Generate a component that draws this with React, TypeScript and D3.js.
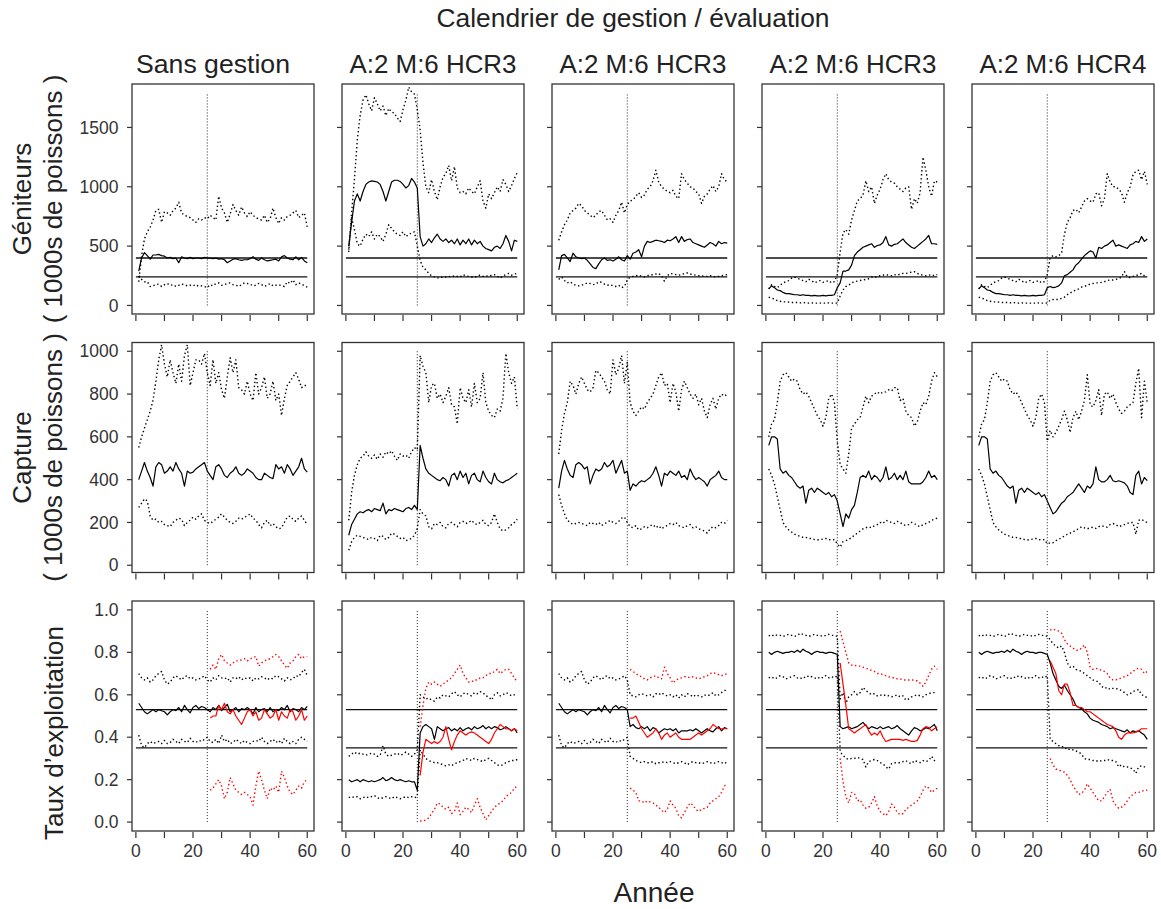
import React from "react";
import * as d3 from "d3";

// ---- labels / ticks ----
const mainTitle = "Calendrier de gestion / évaluation";
const colTitles = ["Sans gestion", "A:2 M:6 HCR3", "A:2 M:6 HCR3", "A:2 M:6 HCR3", "A:2 M:6 HCR4"];
const rowLabels = [
  ["Géniteurs", "( 1000s de poissons )"],
  ["Capture", "( 1000s de poissons )"],
  ["Taux d’exploitation"],
];
const xTitle = "Année";
const xTicks = [0, 10, 20, 30, 40, 50, 60];
const xTickLabels = [0, 20, 40, 60];
const yTicks = [
  [0, 500, 1000, 1500],
  [0, 200, 400, 600, 800, 1000],
  [0, 0.2, 0.4, 0.6, 0.8, 1.0],
];
const refLines = [[400, 240], [], [0.53, 0.35]];
const mgmtYear = 25;
const mgmtTop = [1790, 1000, 1.0];

// ---- Géniteurs (spawners) ----
const sp1Med = [290, 400, 445, 420, 390, 425, 425, 430, 420, 415, 400, 405, 395, 400, 360, 410, 400, 395, 405, 395,
  400, 400, 395, 405, 400, 400, 395, 400, 390, 395, 385, 360, 375, 390, 395, 385, 380, 385, 385, 395,
  410, 390, 380, 400, 385, 375, 380, 385, 390, 375, 410, 420, 400, 390, 385, 410, 385, 405, 375, 360];
const sp1Hi = [200, 420, 560, 620, 660, 720, 800, 810, 700, 790, 780, 760, 800, 820, 870, 780, 760, 750, 740, 720,
  700, 730, 720, 740, 730, 760, 740, 720, 920, 820, 780, 700, 770, 850, 800, 760, 830, 780, 750, 790,
  760, 740, 730, 720, 760, 700, 730, 820, 740, 690, 740, 720, 750, 760, 780, 800, 740, 760, 780, 660];
const sp1Lo = [250, 220, 200, 200, 160, 165, 175, 180, 160, 175, 185, 170, 175, 160, 170, 180, 175, 165, 170, 175,
  160, 170, 165, 160, 150, 175, 165, 185, 190, 170, 175, 185, 190, 175, 170, 160, 175, 190, 185, 180,
  165, 170, 185, 175, 160, 170, 185, 165, 170, 175, 165, 160, 200, 185, 215, 175, 190, 180, 165, 155];
const sp2Med = [500, 700, 880, 940, 880, 960, 1020, 1040, 1050, 1045, 1040, 1020, 960, 880, 960, 1040, 1055, 1055, 1045, 1020,
  990, 1010, 1070, 1040, 990, 580, 500, 520, 560, 530, 570, 600, 560, 540, 560, 530, 550, 520, 560, 510,
  550, 520, 560, 510, 550, 520, 540, 500, 480, 470, 460, 490, 500, 480, 520, 590, 540, 460, 550, 540];
const sp2Hi = [450, 780, 1060, 1400, 1600, 1730, 1775, 1700, 1640, 1750, 1700, 1640, 1680, 1600, 1660, 1630, 1620, 1580, 1550, 1650,
  1730, 1840, 1800, 1780, 1650, 1480, 1200, 1000, 950, 1060, 960, 890, 1000, 1080, 1110, 1180, 1050, 1170, 990, 950,
  960, 940, 990, 960, 940, 1000, 1050, 880, 820, 940, 900, 950, 1000, 960, 1060, 1020, 960, 1010, 1070, 1120];
const sp2Lo = [470, 740, 640, 520, 500, 560, 600, 580, 620, 560, 600, 580, 540, 600, 680, 650, 620, 600, 590, 620,
  580, 600, 610, 620, 500, 380, 320, 300, 270, 250, 240, 230, 240, 235, 240, 245, 240, 250, 245, 240,
  260, 250, 245, 240, 235, 250, 255, 245, 250, 245, 255, 260, 245, 230, 250, 260, 270, 255, 265, 270];
const sp3Med = [300, 420, 430, 400, 370, 440, 410, 400, 395, 400, 380, 350, 320, 310, 350, 385, 400, 380, 385, 375,
  390, 410, 385, 375, 420, 390, 440, 450, 470, 410, 500, 540, 530, 540, 550, 545, 540, 530, 550, 545,
  560, 580, 530, 580, 540, 555, 560, 530, 520, 510, 500, 490, 510, 530, 520, 500, 540, 520, 530, 525];
const sp3Hi = [550, 620, 680, 720, 780, 800, 820, 860, 840, 800, 780, 760, 740, 760, 790, 800, 760, 720, 730, 700,
  760, 800, 870, 780, 850, 880, 890, 920, 950, 910, 930, 980, 1000, 1050, 1140, 1040, 1000, 980, 960, 950,
  970, 920, 900, 1110, 1060, 1030, 1000, 990, 960, 940, 860, 920, 940, 980, 1010, 960, 1000, 1110, 1060, 1040];
const sp3Lo = [220, 240, 210, 190, 200, 180, 170, 165, 170, 180, 190, 185, 175, 180, 200, 195, 180, 170, 175, 165,
  160, 170, 150, 160, 215, 240, 245, 250, 255, 245, 240, 250, 255, 260, 265, 270, 250, 205, 250, 270,
  265, 260, 255, 260, 270, 275, 265, 260, 255, 250, 250, 245, 245, 250, 245, 240, 245, 250, 255, 260];
// years 1-25 are shared by the last two scenarios
const sp45MedPre = [140, 165, 150, 130, 125, 110, 100, 100, 95, 90, 90, 85, 90, 85, 85, 80, 85, 80, 80, 85, 80, 85, 85, 90, 150];
const sp45HiPre = [140, 175, 160, 150, 170, 190, 200, 210, 230, 240, 230, 220, 210, 200, 220, 210, 190, 200, 210, 195, 200, 210, 190, 200, 260];
const sp45LoPre = [70, 60, 55, 40, 35, 30, 30, 28, 25, 25, 25, 22, 25, 22, 20, 22, 20, 20, 20, 20, 20, 22, 20, 20, 20];
const sp4MedPost = [190, 290, 290, 300, 340, 420, 450, 470, 490, 500, 510, 520, 490, 505, 510,
  530, 580, 510, 500, 515, 520, 540, 560, 530, 510, 490, 480, 500, 520, 540, 560, 590, 520, 520, 515];
const sp4HiPost = [450, 610, 640, 600, 720, 800, 880, 900, 930, 1050, 960, 1000, 860, 930, 980,
  1060, 1110, 1060, 1040, 1030, 1000, 980, 960, 990, 1000, 810, 900, 860, 950, 1250, 1140, 1000, 920, 1050, 1040];
const sp4LoPost = [80, 130, 160, 170, 190, 200, 205, 210, 215, 220, 225, 240, 235, 245, 250,
  255, 260, 255, 250, 260, 255, 265, 270, 270, 275, 280, 285, 270, 260, 255, 250, 255, 260, 250, 260];
const sp5MedPost = [160, 150, 155, 165, 190, 250, 260, 280, 300, 340, 360, 390, 420, 440, 460,
  450, 400, 490, 480, 500, 510, 530, 550, 500, 510, 500, 490, 480, 510, 520, 540, 530, 580, 540, 560];
const sp5HiPost = [400, 420, 410, 420, 440, 600, 700, 740, 800, 810, 780, 830, 880, 900, 880,
  870, 940, 950, 840, 900, 1110, 1040, 1000, 1000, 980, 950, 870, 950, 1000, 1100, 1130, 1140, 1060, 1130, 1020];
const sp5LoPost = [45, 50, 50, 50, 60, 70, 90, 105, 120, 130, 140, 155, 160, 170, 180,
  185, 190, 190, 195, 200, 210, 215, 215, 220, 225, 240, 285, 240, 235, 245, 250, 260, 270, 250, 245];

// ---- Capture (catch) ----
const cat1Med = [400, 440, 480, 440, 410, 370, 460, 480, 470, 430, 440, 460, 440, 480, 450, 430, 370, 440, 430, 435,
  450, 460, 470, 480, 440, 420, 400, 460, 470, 450, 420, 410, 430, 440, 460, 430, 420, 430, 450, 440,
  430, 410, 400, 400, 430, 420, 410, 405, 470, 450, 460, 430, 470, 450, 420, 440, 460, 500, 450, 435];
const cat1Hi = [550, 600, 640, 680, 720, 770, 860, 960, 1030, 940, 880, 960, 900, 850, 940, 860, 980, 1030, 840, 900,
  960, 960, 940, 990, 900, 840, 960, 850, 900, 820, 780, 880, 970, 900, 960, 830, 820, 800, 860, 800,
  770, 900, 800, 830, 880, 780, 800, 860, 770, 800, 700, 780, 840, 860, 880, 900, 870, 830, 840, 840];
const cat1Lo = [270, 290, 310, 300, 230, 210, 215, 200, 205, 190, 185, 180, 200, 210, 220, 215, 185, 200, 210, 225,
  215, 230, 240, 210, 200, 195, 205, 215, 225, 240, 225, 210, 200, 195, 205, 220, 215, 225, 230, 240,
  220, 210, 190, 175, 200, 210, 185, 195, 180, 170, 175, 200, 225, 230, 215, 205, 220, 230, 210, 190];
const cat2Med = [140, 190, 215, 240, 250, 245, 255, 260, 250, 265, 260, 255, 290, 240, 260, 255, 265, 260, 255, 250,
  265, 270, 260, 280, 260, 560, 500, 450, 430, 420, 410, 400, 395, 410, 400, 370, 420, 430, 400, 440,
  410, 430, 380, 420, 430, 400, 390, 440, 410, 390, 380, 430, 400, 390, 385, 395, 400, 410, 420, 430];
const cat2Hi = [210, 340, 420, 470, 500, 510, 530, 510, 500, 515, 495, 520, 505, 530, 520, 535, 510, 490, 520, 510,
  515, 500, 530, 550, 540, 980, 930, 900, 760, 840, 850, 780, 800, 760, 790, 830, 750, 740, 660, 830,
  780, 760, 820, 740, 850, 760, 780, 900, 760, 720, 700, 690, 730, 720, 780, 990, 900, 850, 880, 730];
const cat2Lo = [70, 110, 130, 140, 135, 130, 125, 120, 130, 125, 115, 140, 135, 120, 130, 150, 145, 135, 125, 130,
  115, 120, 125, 140, 170, 260, 240, 230, 180, 170, 195, 190, 200, 180, 175, 195, 200, 190, 180, 200,
  205, 195, 200, 210, 195, 190, 200, 210, 190, 185, 200, 240, 200, 170, 160, 165, 175, 190, 200, 215];
const cat3Med = [360, 440, 490, 450, 420, 410, 470, 480, 470, 450, 460, 380, 420, 450, 440, 450, 480, 460, 470, 490,
  430, 460, 490, 430, 440, 350, 380, 370, 385, 395, 390, 400, 410, 430, 460, 420, 370, 430, 420, 440,
  430, 420, 440, 410, 420, 400, 450, 420, 400, 410, 400, 390, 370, 400, 410, 420, 440, 410, 400, 400];
const cat3Hi = [520, 630, 710, 760, 860, 840, 800, 850, 880, 850, 820, 810, 830, 910, 900, 880, 860, 820, 800, 960,
  890, 920, 980, 850, 950, 760, 720, 700, 720, 740, 730, 760, 780, 800, 840, 880, 900, 840, 850, 760,
  850, 810, 720, 820, 860, 830, 800, 780, 800, 750, 780, 720, 690, 750, 780, 730, 780, 800, 790, 800];
const cat3Lo = [330, 280, 240, 210, 200, 190, 195, 200, 195, 190, 185, 200, 195, 190, 200, 185, 195, 200, 210, 200,
  195, 205, 220, 225, 200, 180, 175, 185, 165, 170, 180, 175, 185, 190, 175, 185, 170, 180, 185, 195,
  190, 200, 185, 180, 175, 185, 190, 175, 180, 170, 165, 160, 150, 170, 180, 175, 185, 200, 195, 210];
const cat45MedPre = [560, 600, 600, 590, 450, 430, 440, 420, 410, 390, 370, 360, 370, 290, 350, 360, 340, 360, 350, 340, 330, 340, 320, 330, 300];
const cat45HiPre = [600, 660, 680, 760, 860, 890, 900, 880, 860, 870, 860, 820, 800, 810, 790, 760, 730, 700, 680, 650, 690, 780, 800, 760, 580];
const cat45LoPre = [450, 420, 380, 320, 260, 200, 180, 165, 155, 145, 140, 135, 130, 130, 125, 125, 120, 118, 120, 122, 125, 120, 118, 120, 100];
const cat4MedPost = [240, 180, 240, 220, 260, 280, 340, 410, 420, 410, 440, 400, 420, 410, 390,
  410, 460, 400, 410, 430, 400, 420, 400, 440, 390, 380, 380, 380, 380, 390, 410, 440, 410, 420, 400];
const cat4HiPost = [470, 450, 430, 520, 640, 660, 680, 690, 740, 790, 760, 790, 800, 810, 800,
  810, 810, 820, 815, 830, 830, 770, 780, 720, 700, 690, 650, 670, 720, 760, 750, 790, 860, 900, 880];
const cat4LoPost = [85, 110, 115, 120, 130, 140, 150, 160, 170, 175, 180, 175, 185, 190, 200,
  195, 210, 205, 200, 195, 205, 200, 190, 185, 190, 200, 195, 185, 180, 190, 195, 200, 210, 215, 220];
const cat5MedPost = [270, 240, 250, 270, 290, 300, 320, 330, 340, 360, 380, 360, 340, 370, 360,
  380, 460, 400, 390, 390, 400, 420, 395, 390, 395, 390, 385, 370, 340, 330, 420, 440, 380, 410, 395];
const cat5HiPost = [630, 600, 620, 650, 680, 720, 680, 620, 690, 720, 680, 720, 770, 890, 750,
  740, 770, 820, 700, 800, 810, 780, 800, 760, 730, 710, 720, 740, 750, 760, 850, 920, 690, 860, 760];
const cat5LoPost = [105, 105, 115, 120, 130, 135, 145, 150, 155, 165, 170, 180, 175, 170, 175,
  178, 172, 180, 185, 180, 178, 190, 195, 190, 180, 185, 190, 195, 200, 200, 145, 210, 215, 205, 200];

// ---- Taux d'exploitation (exploitation rate), black = true, red = perceived (from year 26) ----
const u13MedPre = [.56, .54, .52, .51, .52, .53, .52, .53, .525, .52, .505, .52, .53, .525, .54, .52, .55, .53, .515, .54, .55, .535, .545, .54, .53];
const u13HiPre = [.70, .68, .67, .68, .66, .67, .69, .70, .71, .67, .65, .66, .68, .69, .68, .67, .685, .69, .675, .68, .67, .675, .68, .69, .67];
const u13LoPre = [.41, .36, .35, .37, .38, .37, .375, .38, .37, .385, .37, .375, .39, .38, .37, .39, .38, .375, .395, .38, .375, .385, .38, .39, .40];
const u1MedPost = [.52, .54, .53, .55, .525, .54, .555, .52, .53, .54, .52, .535, .53, .54, .53, .51, .54, .52,
  .53, .535, .52, .54, .52, .53, .525, .54, .53, .55, .52, .535, .53, .52, .54, .53, .545];
const u1HiPost = [.66, .68, .67, .69, .68, .675, .68, .66, .68, .675, .685, .67, .68, .675, .68, .665, .68, .675,
  .685, .68, .67, .68, .675, .69, .685, .675, .665, .68, .67, .675, .69, .685, .705, .72, .69];
const u1LoPost = [.38, .375, .39, .37, .41, .38, .39, .37, .375, .39, .38, .37, .385, .375, .37, .38, .385, .38,
  .40, .38, .37, .38, .39, .375, .385, .37, .395, .38, .37, .38, .37, .39, .40, .39, .38];
const e1Med = [.49, .50, .50, .55, .53, .56, .52, .51, .53, .50, .48, .46, .49, .52, .53, .50, .52, .48,
  .49, .53, .51, .49, .50, .53, .48, .52, .50, .49, .53, .52, .48, .50, .53, .48, .50];
const e1Hi = [.72, .74, .72, .77, .79, .76, .75, .74, .75, .76, .76, .765, .77, .76, .77, .775, .78, .735,
  .75, .76, .765, .77, .78, .79, .78, .76, .74, .725, .75, .76, .78, .79, .77, .78, .78];
const e1Lo = [.15, .16, .18, .20, .17, .11, .14, .21, .18, .15, .14, .13, .14, .13, .12, .08, .17, .24,
  .20, .15, .11, .16, .15, .17, .14, .24, .21, .17, .14, .13, .15, .17, .16, .19, .20];

const u2Med = [.20, .19, .195, .20, .19, .20, .195, .19, .195, .19, .195, .20, .21, .195, .20, .21, .20, .195, .20, .195,
  .19, .195, .19, .19, .15, .42, .45, .46, .45, .44, .39, .45, .44, .43, .44, .445, .43, .44, .43, .445,
  .43, .44, .445, .435, .45, .44, .445, .455, .44, .45, .44, .45, .445, .435, .44, .45, .44, .43, .44, .42];
const u2Hi = [.31, .32, .33, .32, .325, .32, .315, .32, .325, .32, .31, .315, .36, .32, .31, .315, .32, .325, .315, .32,
  .33, .32, .31, .32, .34, .60, .59, .58, .585, .575, .57, .59, .585, .60, .595, .59, .605, .615, .60, .59,
  .605, .61, .60, .595, .61, .605, .615, .61, .595, .59, .575, .60, .61, .595, .60, .61, .605, .595, .60, .595];
const u2Lo = [.115, .12, .115, .12, .11, .115, .12, .115, .12, .125, .115, .11, .115, .12, .115, .11, .12, .115, .11, .115,
  .12, .115, .12, .115, .12, .34, .32, .30, .29, .285, .28, .28, .275, .27, .265, .27, .265, .275, .28, .285,
  .29, .30, .295, .29, .30, .295, .29, .285, .295, .30, .29, .28, .27, .265, .27, .28, .285, .29, .29, .295];
const e2Med = [.22, .33, .39, .38, .37, .38, .37, .38, .40, .45, .39, .34, .38, .41, .43, .42, .41, .42,
  .425, .42, .41, .40, .39, .38, .37, .39, .42, .44, .46, .45, .44, .44, .43, .44, .43];
const e2Hi = [.45, .55, .63, .66, .65, .66, .65, .64, .65, .66, .67, .68, .70, .72, .74, .70, .68, .66,
  .66, .67, .67, .68, .68, .69, .70, .70, .71, .72, .70, .71, .72, .72, .70, .68, .66];
const e2Lo = [.005, .005, .01, .02, .04, .06, .09, .085, .07, .06, .07, .04, .05, .09, .035, .05, .07, .06,
  .045, .08, .11, .07, .04, .01, .03, .05, .07, .08, .09, .10, .12, .13, .14, .16, .17];

const u3MedPost = [.45, .46, .445, .44, .45, .44, .45, .43, .445, .44, .42, .43, .44, .435, .44, .43, .44, .42,
  .43, .43, .43, .435, .43, .44, .43, .42, .43, .44, .43, .425, .44, .45, .43, .445, .44];
const u3HiPost = [.60, .595, .59, .60, .605, .60, .595, .60, .59, .605, .60, .61, .60, .595, .60, .59, .60, .585,
  .60, .59, .605, .60, .59, .60, .595, .59, .60, .595, .60, .61, .595, .60, .61, .62, .625];
const u3LoPost = [.31, .30, .29, .285, .28, .285, .28, .28, .285, .275, .28, .28, .285, .28, .285, .28, .275, .28,
  .285, .28, .27, .28, .285, .28, .28, .275, .28, .285, .28, .275, .28, .285, .28, .275, .285];
const e3Med = [.49, .49, .50, .47, .44, .42, .40, .41, .42, .44, .42, .39, .41, .42, .40, .41, .42, .40,
  .39, .39, .39, .39, .40, .41, .42, .41, .42, .43, .44, .46, .45, .44, .44, .44, .44];
const e3Hi = [.72, .71, .70, .69, .685, .675, .67, .68, .685, .69, .68, .675, .73, .70, .68, .655, .67, .675,
  .68, .685, .685, .68, .685, .68, .675, .68, .685, .69, .70, .705, .70, .695, .69, .695, .70];
const e3Lo = [.16, .15, .14, .10, .10, .09, .10, .095, .09, .08, .07, .055, .045, .06, .10, .08, .065, .03,
  .02, .045, .07, .09, .08, .06, .05, .06, .065, .07, .09, .10, .11, .12, .14, .17, .18];

const u45MedPre = [.80, .79, .80, .805, .80, .795, .80, .80, .805, .80, .81, .80, .815, .805, .80, .79, .80, .805, .80, .80, .795, .80, .80, .795, .79];
const u45HiPre = [.88, .875, .885, .88, .88, .875, .88, .885, .88, .875, .88, .89, .885, .88, .875, .88, .885, .88, .88, .875, .88, .885, .88, .88, .875];
const u45LoPre = [.68, .685, .675, .68, .69, .685, .675, .68, .685, .69, .68, .675, .685, .68, .69, .685, .68, .675, .685, .68, .69, .68, .685, .68, .69];
const u4MedPost = [.45, .44, .445, .45, .44, .445, .45, .46, .47, .455, .44, .45, .445, .44, .45, .44, .445, .45,
  .44, .445, .455, .44, .43, .42, .41, .43, .445, .44, .43, .435, .445, .44, .45, .46, .43];
const u4HiPost = [.58, .61, .56, .59, .60, .615, .60, .61, .635, .62, .61, .60, .605, .595, .60, .595, .60, .595,
  .59, .595, .60, .59, .595, .575, .58, .59, .595, .60, .595, .59, .60, .605, .61, .61, .61];
const u4LoPost = [.33, .315, .30, .295, .30, .30, .305, .30, .295, .26, .285, .29, .295, .29, .28, .275, .26, .25,
  .275, .28, .28, .28, .285, .29, .28, .275, .29, .285, .28, .29, .285, .29, .31, .29, .295];
const e4Med = [.75, .65, .55, .44, .43, .42, .43, .44, .45, .46, .43, .41, .42, .41, .43, .40, .38, .385,
  .39, .39, .39, .39, .385, .39, .385, .38, .38, .385, .41, .44, .45, .445, .43, .44, .45];
const e4Hi = [.90, .85, .80, .75, .74, .74, .735, .735, .73, .725, .72, .715, .71, .70, .70, .695, .69, .685,
  .68, .68, .675, .675, .67, .67, .67, .67, .67, .665, .655, .64, .66, .69, .72, .735, .72];
const e4Lo = [.30, .19, .12, .09, .14, .135, .10, .105, .08, .065, .07, .09, .12, .075, .05, .04, .03, .05,
  .085, .07, .045, .035, .04, .06, .07, .08, .09, .10, .12, .15, .17, .16, .14, .15, .16];

const u5MedPost = [.75, .70, .67, .64, .63, .645, .62, .60, .58, .55, .54, .535, .52, .51, .49, .48, .475, .47,
  .46, .455, .45, .44, .445, .44, .435, .43, .425, .435, .42, .43, .425, .43, .42, .41, .39];
const u5HiPost = [.86, .84, .83, .82, .83, .80, .75, .73, .735, .72, .715, .71, .70, .69, .68, .67, .665, .66,
  .64, .63, .635, .625, .63, .63, .625, .62, .61, .60, .605, .615, .62, .625, .60, .595, .585];
const u5LoPost = [.39, .38, .37, .36, .355, .355, .34, .345, .34, .335, .33, .32, .30, .295, .295, .29, .29, .285,
  .29, .29, .295, .29, .29, .285, .26, .27, .26, .26, .255, .25, .23, .26, .265, .26, .26];
const e5Med = [.76, .73, .70, .62, .60, .65, .65, .61, .55, .55, .54, .54, .53, .52, .52, .51, .50, .49,
  .48, .47, .46, .455, .45, .43, .40, .39, .41, .42, .42, .42, .425, .43, .44, .44, .44];
const e5Hi = [.905, .91, .905, .90, .89, .86, .84, .83, .82, .81, .81, .82, .835, .80, .73, .72, .725, .72,
  .715, .71, .70, .68, .67, .67, .675, .68, .685, .69, .70, .71, .72, .725, .72, .70, .71];
const e5Lo = [.30, .27, .25, .245, .24, .235, .22, .20, .17, .15, .13, .135, .15, .18, .16, .14, .12, .10,
  .10, .12, .14, .155, .10, .08, .065, .07, .08, .10, .12, .13, .14, .14, .145, .15, .15];

// ---- build panels ----
type Series = { v: number[]; x0: number; dash: boolean; red: boolean };
const trio = (med: number[], hi: number[], lo: number[], x0 = 1, red = false): Series[] => [
  { v: hi, x0, dash: true, red },
  { v: lo, x0, dash: true, red },
  { v: med, x0, dash: false, red },
];
const panels: Series[][][] = [
  [
    trio(sp1Med, sp1Hi, sp1Lo),
    trio(sp2Med, sp2Hi, sp2Lo),
    trio(sp3Med, sp3Hi, sp3Lo),
    trio([...sp45MedPre, ...sp4MedPost], [...sp45HiPre, ...sp4HiPost], [...sp45LoPre, ...sp4LoPost]),
    trio([...sp45MedPre, ...sp5MedPost], [...sp45HiPre, ...sp5HiPost], [...sp45LoPre, ...sp5LoPost]),
  ],
  [
    trio(cat1Med, cat1Hi, cat1Lo),
    trio(cat2Med, cat2Hi, cat2Lo),
    trio(cat3Med, cat3Hi, cat3Lo),
    trio([...cat45MedPre, ...cat4MedPost], [...cat45HiPre, ...cat4HiPost], [...cat45LoPre, ...cat4LoPost]),
    trio([...cat45MedPre, ...cat5MedPost], [...cat45HiPre, ...cat5HiPost], [...cat45LoPre, ...cat5LoPost]),
  ],
  [
    [...trio([...u13MedPre, ...u1MedPost], [...u13HiPre, ...u1HiPost], [...u13LoPre, ...u1LoPost]), ...trio(e1Med, e1Hi, e1Lo, 26, true)],
    [...trio(u2Med, u2Hi, u2Lo), ...trio(e2Med, e2Hi, e2Lo, 26, true)],
    [...trio([...u13MedPre, ...u3MedPost], [...u13HiPre, ...u3HiPost], [...u13LoPre, ...u3LoPost]), ...trio(e3Med, e3Hi, e3Lo, 26, true)],
    [...trio([...u45MedPre, ...u4MedPost], [...u45HiPre, ...u4HiPost], [...u45LoPre, ...u4LoPost]), ...trio(e4Med, e4Hi, e4Lo, 26, true)],
    [...trio([...u45MedPre, ...u5MedPost], [...u45HiPre, ...u5HiPost], [...u45LoPre, ...u5LoPost]), ...trio(e5Med, e5Hi, e5Lo, 26, true)],
  ],
];

// ---- layout ----
const W = 1161, H = 909;
const colX = [132, 342, 552, 762, 972];
const rowY = [84, 342.5, 601];
const PW = 182, PH = 230;
const yLims = [[-72, 1866], [-34, 1041], [-0.042, 1.042]];
const font = "'Liberation Sans', Arial, Helvetica, sans-serif";
const ink = "#222";

const fmtTick = (r: number, v: number) => (r === 2 ? v.toFixed(1) : String(v));

export default function App() {
  const x = d3.scaleLinear().domain([-1.36, 62.36]).range([0, PW]);
  return (
    <svg width={W} height={H} style={{ position: "absolute", left: 0, top: 0, background: "#fff" }} fontFamily={font}>
      <text x={633} y={27} textAnchor="middle" fontSize={25} fill={ink}
        textLength={393} lengthAdjust="spacingAndGlyphs">{mainTitle}</text>
      {colTitles.map((t, c) => (
        <text key={c} x={c === 0 ? 213 : colX[c] + PW / 2} y={72.5} textAnchor="middle" fontSize={25} fill={ink}
          textLength={c === 0 ? 154 : 167} lengthAdjust="spacingAndGlyphs">{t}</text>
      ))}
      {rowLabels.map((lines, r) => {
        const cy = r === 2 ? 733 : rowY[r] + PH / 2;
        return lines.map((t, k) => (
          <text key={r + "-" + k} transform={`translate(${lines.length === 1 ? 63 : k === 0 ? 31 : 62},${cy}) rotate(-90)`}
            textAnchor="middle" fontSize={26} fill={ink}>{t}</text>
        ));
      })}
      <text x={654} y={902} textAnchor="middle" fontSize={28} fill={ink}>{xTitle}</text>

      {panels.map((row, r) => {
        const y = d3.scaleLinear().domain(yLims[r]).range([PH, 0]);
        return row.map((series, c) => (
          <g key={r + "-" + c} transform={`translate(${colX[c]},${rowY[r]})`}>
            {refLines[r].map((v) => (
              <line key={v} x1={x(0)} x2={x(60)} y1={y(v)} y2={y(v)} stroke="#111" strokeWidth={1.3} />
            ))}
            <line x1={x(mgmtYear)} x2={x(mgmtYear)} y1={y(0)} y2={y(mgmtTop[r])} stroke="#222"
              strokeWidth={1} strokeDasharray="1 2" />
            {series.map((s, k) => {
              const line = d3.line<number>().x((_, i) => x(s.x0 + i)).y((d) => y(d));
              return (
                <path key={k} d={line(s.v) || ""} fill="none" stroke={s.red ? "#ff0000" : "#000"}
                  strokeWidth={s.dash ? 1.4 : 1.2} strokeDasharray={s.dash ? "1.4 2.6" : undefined}
                  strokeLinejoin="round" />
              );
            })}
            <rect x={0} y={0} width={PW} height={PH} fill="none" stroke="#333" strokeWidth={1.3} />
            {yTicks[r].map((v) => (
              <g key={"y" + v}>
                <line x1={-5} x2={0} y1={y(v)} y2={y(v)} stroke="#333" strokeWidth={1.2} />
                {c === 0 && (
                  <text x={-13.5} y={y(v)} dy="0.35em" textAnchor="end" fontSize={17.5} fill="#333">{fmtTick(r, v)}</text>
                )}
              </g>
            ))}
            {xTicks.map((v) => (
              <line key={"x" + v} x1={x(v)} x2={x(v)} y1={PH + 1} y2={PH + 7} stroke="#333" strokeWidth={1.2} />
            ))}
            {r === 2 && xTickLabels.map((v) => (
              <text key={"xl" + v} x={x(v)} y={PH + 26} textAnchor="middle" fontSize={17.5} fill="#333">{v}</text>
            ))}
          </g>
        ));
      })}
    </svg>
  );
}
